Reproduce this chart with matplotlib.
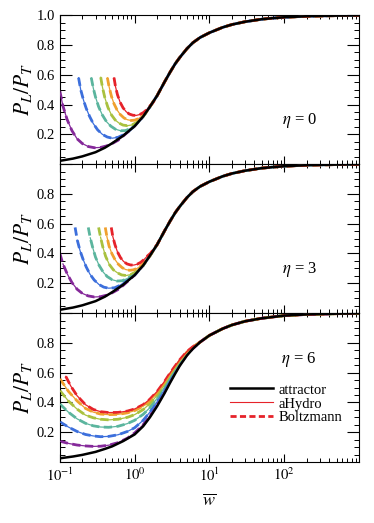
import numpy as np
import matplotlib
matplotlib.use('Agg')
import matplotlib.pyplot as plt
from matplotlib.lines import Line2D
from matplotlib.ticker import MultipleLocator, LogLocator, NullFormatter

plt.rcParams['font.family'] = ['Liberation Serif', 'DejaVu Serif']
plt.rcParams['mathtext.fontset'] = 'stix'

# attractor for eta = 0 and eta = 3
att_w = [0.1, 0.15, 0.2, 0.3, 0.4, 0.5, 0.7, 1.0, 1.3, 1.6, 2.0, 2.5, 3.0, 3.5, 4.0,
         5.0, 6.0, 7.5, 10, 15, 20, 30, 50, 70, 100, 200, 500, 1000]
att_y = [0.022, 0.037, 0.052, 0.08, 0.11, 0.14, 0.19, 0.255, 0.32, 0.385, 0.46, 0.55,
         0.62, 0.675, 0.715, 0.775, 0.815, 0.85, 0.882, 0.918, 0.937, 0.956, 0.973,
         0.98, 0.986, 0.993, 0.997, 0.999]

# attractor for eta = 6
att6_w = [0.1, 0.15, 0.2, 0.3, 0.4, 0.5, 0.7, 1.0, 1.3, 1.6, 2.0, 2.5, 3.0, 3.5, 4.0,
          5.0, 6.0, 7.5, 10, 15, 20, 30, 50, 100, 200, 500, 1000]
att6_y = [0.025, 0.037, 0.048, 0.068, 0.088, 0.105, 0.14, 0.185, 0.24, 0.3, 0.375,
          0.46, 0.535, 0.595, 0.645, 0.715, 0.76, 0.805, 0.85, 0.895, 0.92, 0.945,
          0.965, 0.983, 0.991, 0.996, 0.998]

colors = ['#85299a', '#3c6fdc', '#5bb59e', '#a9c13f', '#f0a02e', '#e6232a']

# eta = 0 curves (until they join the attractor)
w0 = [[0.1, 0.11, 0.125, 0.145, 0.17, 0.2, 0.24, 0.29, 0.35, 0.42, 0.5, 0.6, 0.7],
      [0.178, 0.19, 0.207, 0.225, 0.25, 0.28, 0.32, 0.37, 0.43, 0.5, 0.6, 0.7, 0.85, 1.0],
      [0.263, 0.28, 0.3, 0.33, 0.37, 0.42, 0.48, 0.55, 0.65, 0.75, 0.9, 1.05, 1.2],
      [0.352, 0.37, 0.4, 0.44, 0.49, 0.55, 0.62, 0.7, 0.8, 0.92, 1.05, 1.2, 1.35],
      [0.432, 0.455, 0.49, 0.53, 0.58, 0.64, 0.72, 0.8, 0.9, 1.0, 1.12, 1.25, 1.4, 1.55],
      [0.53, 0.555, 0.59, 0.64, 0.7, 0.77, 0.85, 0.95, 1.05, 1.17, 1.3, 1.45, 1.6, 1.75]]
y0 = [[0.49, 0.39, 0.3, 0.225, 0.17, 0.138, 0.118, 0.11, 0.112, 0.122, 0.138, 0.16, 0.188],
      [0.58, 0.5, 0.43, 0.375, 0.32, 0.272, 0.23, 0.2, 0.182, 0.174, 0.18, 0.196, 0.225, 0.258],
      [0.58, 0.51, 0.45, 0.385, 0.33, 0.285, 0.255, 0.235, 0.224, 0.225, 0.24, 0.27, 0.3],
      [0.583, 0.52, 0.445, 0.38, 0.33, 0.296, 0.275, 0.262, 0.258, 0.263, 0.278, 0.303, 0.33],
      [0.58, 0.52, 0.455, 0.405, 0.365, 0.334, 0.31, 0.298, 0.293, 0.295, 0.305, 0.322,
       0.345, 0.372],
      [0.58, 0.52, 0.465, 0.415, 0.378, 0.352, 0.336, 0.328, 0.327, 0.333, 0.345, 0.365,
       0.39, 0.412]]

# eta = 3 curves
w3 = [[0.1, 0.11, 0.125, 0.145, 0.17, 0.2, 0.24, 0.29, 0.35, 0.42, 0.5, 0.6, 0.7],
      [0.16, 0.171, 0.186, 0.203, 0.225, 0.252, 0.288, 0.333, 0.387, 0.45, 0.54, 0.63,
       0.77, 0.9],
      [0.24, 0.255, 0.275, 0.3, 0.335, 0.38, 0.43, 0.5, 0.58, 0.68, 0.8, 0.95, 1.1],
      [0.33, 0.35, 0.375, 0.41, 0.46, 0.52, 0.59, 0.67, 0.77, 0.88, 1.0, 1.12, 1.25],
      [0.405, 0.425, 0.455, 0.495, 0.545, 0.605, 0.68, 0.76, 0.86, 0.96, 1.08, 1.2,
       1.35, 1.5],
      [0.487, 0.51, 0.545, 0.59, 0.645, 0.71, 0.79, 0.88, 0.97, 1.08, 1.2, 1.34, 1.48,
       1.62]]
y3 = [[0.40, 0.33, 0.265, 0.205, 0.16, 0.132, 0.115, 0.108, 0.11, 0.12, 0.136, 0.158, 0.185],
      [0.575, 0.49, 0.42, 0.365, 0.31, 0.262, 0.222, 0.192, 0.174, 0.167, 0.17, 0.185,
       0.215, 0.24],
      [0.575, 0.505, 0.44, 0.375, 0.32, 0.275, 0.245, 0.224, 0.215, 0.217, 0.232, 0.258,
       0.285],
      [0.575, 0.51, 0.445, 0.38, 0.325, 0.29, 0.27, 0.256, 0.252, 0.258, 0.272, 0.292,
       0.315],
      [0.575, 0.515, 0.45, 0.4, 0.36, 0.328, 0.305, 0.292, 0.287, 0.29, 0.3, 0.316, 0.34,
       0.365],
      [0.575, 0.515, 0.46, 0.41, 0.373, 0.347, 0.33, 0.323, 0.322, 0.328, 0.34, 0.36,
       0.383, 0.4]]

# eta = 6 curves
w6_grid = [0.1, 0.13, 0.17, 0.22, 0.28, 0.35, 0.45, 0.6, 0.8, 1.0, 1.3, 1.6, 2.0, 2.5,
           3.0, 3.5, 4.0, 5.0, 6.0]
w6_red = [0.12, 0.14, 0.17, 0.22, 0.28, 0.35, 0.45, 0.6, 0.8, 1.0, 1.3, 1.6, 2.0, 2.5,
          3.0, 3.5, 4.0, 5.0, 6.0]
w6 = [w6_grid, w6_grid, w6_grid, w6_grid, w6_grid, w6_red]
y6 = [[0.14, 0.125, 0.114, 0.108, 0.105, 0.106, 0.113, 0.13, 0.16, 0.195, 0.25, 0.31,
       0.385, 0.47, 0.545, 0.603, 0.652, 0.72, 0.762],
      [0.27, 0.235, 0.205, 0.185, 0.175, 0.17, 0.172, 0.183, 0.205, 0.23, 0.28, 0.335,
       0.405, 0.485, 0.557, 0.613, 0.66, 0.725, 0.765],
      [0.39, 0.335, 0.29, 0.26, 0.243, 0.235, 0.233, 0.24, 0.258, 0.28, 0.32, 0.365,
       0.428, 0.502, 0.57, 0.623, 0.667, 0.73, 0.768],
      [0.48, 0.41, 0.355, 0.315, 0.297, 0.287, 0.283, 0.287, 0.3, 0.318, 0.352, 0.392,
       0.448, 0.518, 0.582, 0.632, 0.674, 0.734, 0.77],
      [0.56, 0.475, 0.41, 0.36, 0.335, 0.322, 0.318, 0.32, 0.33, 0.345, 0.375, 0.412,
       0.464, 0.53, 0.592, 0.64, 0.68, 0.738, 0.772],
      [0.575, 0.51, 0.445, 0.385, 0.353, 0.338, 0.332, 0.333, 0.342, 0.356, 0.385, 0.422,
       0.474, 0.54, 0.6, 0.647, 0.686, 0.742, 0.774]]

panels = [
    (r'$\eta$ = 0', w0, y0, att_w, att_y, 0),
    (r'$\eta$ = 3', w3, y3, att_w, att_y, 1),
    (r'$\eta$ = 6', w6, y6, att6_w, att6_y, 0),
]

fig, axes = plt.subplots(3, 1, figsize=(3.74, 5.23), dpi=100, sharex=True)
fig.subplots_adjust(left=0.16, right=0.96, bottom=0.1166, top=0.971, hspace=0)

for i, (ax, (lab, ws, ys, aw, ay, skip)) in enumerate(zip(axes, panels)):
    for c, w, y in zip(colors, ws, ys):
        # continue each curve along the attractor after it merges
        fw = list(w) + [a for a in aw if a > w[-1]]
        fy = list(y) + [b for a, b in zip(aw, ay) if a > w[-1]]
        ax.plot(fw, fy, color=c, lw=2.0, ls=(0, (3, 1.6)), zorder=2)
        ax.plot(fw[skip:], fy[skip:], color=c, lw=0.9, zorder=3)
    ax.plot(aw, ay, color='black', lw=1.8, zorder=4)

    ax.set_xscale('log')
    ax.set_xlim(0.1, 1000)
    ax.set_ylim(0, 1.0)
    ax.set_xticks([0.1, 1, 10, 100])
    ax.xaxis.set_minor_locator(LogLocator(base=10, subs=np.arange(2, 10)))
    ax.xaxis.set_minor_formatter(NullFormatter())
    ax.set_yticks([0.2, 0.4, 0.6, 0.8, 1.0])
    if i == 0:
        ax.set_yticklabels(['0.2', '0.4', '0.6', '0.8', '1.0'])
    else:
        ax.set_yticklabels(['0.2', '0.4', '0.6', '0.8', ''])
    ax.yaxis.set_minor_locator(MultipleLocator(0.05))
    ax.tick_params(which='both', direction='in', top=True, right=True, labelsize=10.5)
    ax.tick_params(axis='y', which='major', length=8.5, width=0.8)
    ax.tick_params(axis='y', which='minor', length=3.5, width=0.7)
    ax.tick_params(axis='x', which='major', length=6, width=0.8)
    ax.tick_params(axis='x', which='minor', length=3, width=0.7)
    for s in ax.spines.values():
        s.set_linewidth(0.8)
    ax.set_ylabel(r'$P_L/P_T$', fontsize=15.5, labelpad=2)
    if i < 2:
        ax.text(0.8, 0.295, lab, transform=ax.transAxes, fontsize=12,
                ha='center', va='center')
    else:
        ax.text(0.8, 0.69, lab, transform=ax.transAxes, fontsize=12,
                ha='center', va='center')

axes[2].set_xticklabels([r'$10^{-1}$', r'$10^{0}$', r'$10^{1}$', r'$10^{2}$'])
axes[2].set_xlabel(r'$\overline{w}$', fontsize=13, labelpad=6)

handles = [Line2D([], [], color='black', lw=1.8),
           Line2D([], [], color='#e6232a', lw=0.8),
           Line2D([], [], color='#e6232a', lw=2.0, ls=(0, (2.2, 1.2)))]
axes[2].legend(handles, ['attractor', 'aHydro', 'Boltzmann'], loc='center left',
               bbox_to_anchor=(0.55, 0.39), frameon=False, fontsize=10.5,
               handlelength=2.9, handletextpad=0.4, labelspacing=0.05,
               borderaxespad=0)

fig.savefig('out.png', dpi=100)
